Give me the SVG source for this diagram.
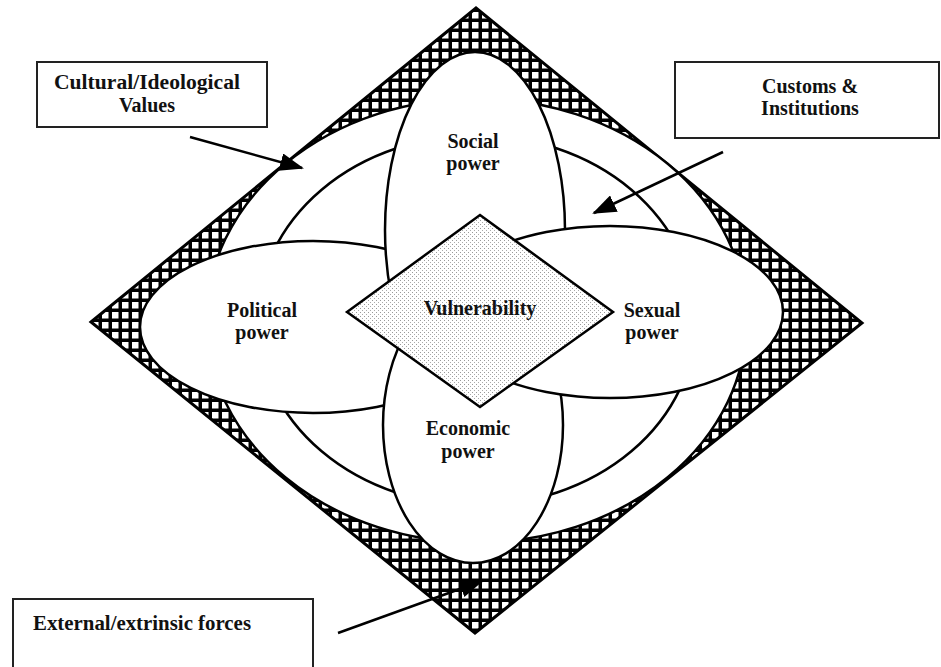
<svg xmlns="http://www.w3.org/2000/svg" width="941" height="667" viewBox="0 0 941 667">
<style>
.lbl{font-family:"Liberation Serif","Times New Roman",serif;font-weight:bold;font-size:20px;fill:#111;text-anchor:middle}
.ring{fill:#fff;stroke:#000;stroke-width:2.5}
.box{fill:#fff;stroke:#222;stroke-width:2}
.arr{stroke:#000;stroke-width:2.5;fill:none;marker-end:url(#ah)}
</style>
<defs>
<pattern id="hatch" width="10" height="10" patternUnits="userSpaceOnUse">
<rect width="10" height="10" fill="#000"/>
<rect x="2" y="2" width="6.5" height="6.5" fill="#fff"/>
</pattern>
<pattern id="dots" width="4" height="4" patternUnits="userSpaceOnUse">
<rect width="4" height="4" fill="#fff"/>
<rect x="0" y="0" width="1" height="1" fill="#999"/>
<rect x="2" y="2" width="1" height="1" fill="#aaa"/>
</pattern>
<marker id="ah" viewBox="0 0 24 18" refX="22" refY="9" markerWidth="24" markerHeight="18" markerUnits="userSpaceOnUse" orient="auto">
<path d="M0,0 L24,9 L0,18 Z" fill="#000"/>
</marker>
</defs>
<rect width="941" height="667" fill="#fff"/>
<g id="frame">
<polygon points="91,322 476,8 862,323 475,633" fill="url(#hatch)" stroke="#000" stroke-width="3"/>
</g>
<g id="outer-ring">
<ellipse class="ring" cx="476.5" cy="320.5" rx="270" ry="222"/>
</g>
<g id="inner-ring">
<ellipse class="ring" cx="476.5" cy="320.5" rx="219" ry="185"/>
</g>
<g id="political">
<ellipse class="ring" cx="313" cy="327" rx="173" ry="86"/>
<text class="lbl" x="262" y="317">Political</text>
<text class="lbl" x="262" y="339">power</text>
</g>
<g id="social">
<ellipse class="ring" cx="475" cy="230" rx="90" ry="178"/>
<text class="lbl" x="473" y="148">Social</text>
<text class="lbl" x="473" y="170">power</text>
</g>
<g id="economic">
<ellipse class="ring" cx="473" cy="425" rx="90" ry="138"/>
<text class="lbl" x="468" y="435">Economic</text>
<text class="lbl" x="468" y="458">power</text>
</g>
<g id="sexual">
<ellipse class="ring" cx="610" cy="312" rx="173" ry="86"/>
<text class="lbl" x="652" y="317">Sexual</text>
<text class="lbl" x="652" y="339">power</text>
</g>
<g id="vulnerability">
<polygon points="347,312 480,215 613,312 480,407" fill="url(#dots)" stroke="#000" stroke-width="2.5"/>
<text class="lbl" x="480" y="315">Vulnerability</text>
</g>
<g id="cultural">
<rect class="box" x="37" y="62" width="230" height="65"/>
<text class="lbl" x="147" y="89" textLength="186" lengthAdjust="spacingAndGlyphs">Cultural/Ideological</text>
<text class="lbl" x="147" y="112">Values</text>
</g>
<g id="customs">
<rect class="box" x="675" y="62" width="264" height="76"/>
<text class="lbl" x="810" y="93">Customs &amp;</text>
<text class="lbl" x="810" y="115">Institutions</text>
</g>
<g id="external">
<rect class="box" x="13" y="599" width="300" height="70"/>
<text class="lbl" x="33" y="630" style="text-anchor:start" textLength="218" lengthAdjust="spacingAndGlyphs">External/extrinsic forces</text>
</g>
<g id="connectors">
<line class="arr" x1="190" y1="137" x2="302" y2="168"/>
<line class="arr" x1="723" y1="152" x2="594" y2="213"/>
<line class="arr" x1="338" y1="633" x2="482" y2="581"/>
</g>
</svg>
